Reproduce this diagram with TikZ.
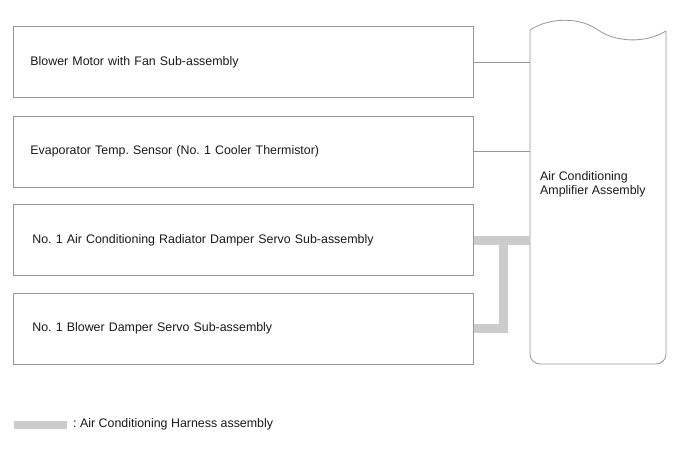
\documentclass[tikz,border=0pt]{standalone}
\usepackage{fontspec}
\setmainfont{Liberation Sans}
\usepackage{xcolor}
\usetikzlibrary{positioning, calc}
\definecolor{BoxLine}{RGB}{150, 150, 150}
\definecolor{Harness}{RGB}{204, 204, 204}
\definecolor{TextDark}{RGB}{25, 25, 25}
\frenchspacing

\begin{document}
\begin{tikzpicture}[x=1pt, y=-1pt,
        partbox/.style={draw=BoxLine, line width=0.8pt, minimum width=460pt, minimum height=71pt,
            anchor=west, text width=426pt, inner xsep=17pt, align=left, font=\fontsize{12.4}{14}\selectfont, text=TextDark},
        wire/.style={draw=BoxLine, line width=0.8pt},
        harness/.style={draw=Harness, line width=9pt}]
            \useasboundingbox (0,0) rectangle (688,463);

            % Harness
            \coordinate (ampW3) at (530,240);
            \coordinate (tee) at (503,240);

            % Components
            \node[partbox] (blower) at (13,62) {Blower Motor with Fan Sub-assembly};
            \node[partbox] (evap) at (13,151.5) {Evaporator Temp. Sensor (No. 1 Cooler Thermistor)};
            \node[partbox, inner xsep=19pt, text width=422pt] (radservo) at (13,240) {No. 1 Air Conditioning Radiator Damper Servo Sub-assembly};
            \node[partbox, inner xsep=19pt, text width=422pt] (blwservo) at (13,328.5) {No. 1 Blower Damper Servo Sub-assembly};

            % Amplifier
            \draw[wire, rounded corners=10pt] (530,30) -- (530,364) -- (666,364) -- (666,31);
            \draw[wire] (530,30) .. controls (550,17) and (580,17) .. (598,30)
                .. controls (615,42) and (645,44) .. (666,31);
            \node[anchor=west, align=left, font=\fontsize{12.4}{14}\selectfont, text=TextDark, inner sep=0pt] (amp) at (540,184)
                {Air Conditioning\\Amplifier Assembly};

            % Connections
            \draw[wire] (blower.east) -- (blower.east -| ampW3);
            \draw[wire] (evap.east) -- (evap.east -| ampW3);
            \draw[harness] (radservo.east) -- (ampW3);
            \draw[harness] (blwservo.east) -| (tee);

            % Legend
            \node[anchor=west, font=\fontsize{12.4}{14}\selectfont, text=TextDark, inner sep=0pt] (legend) at (73,424) {: Air Conditioning Harness assembly};
            \coordinate (legA) at (14,425);
            \draw[harness, line width=8pt] (legA) -- (legA -| {$(legend.west)+(-6,0)$});
        \end{tikzpicture}
\end{document}
